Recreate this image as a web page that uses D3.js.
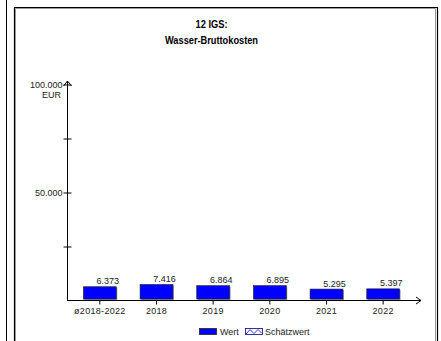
<!DOCTYPE html>
<html>
<head>
<meta charset="utf-8">
<script src="https://cdn.jsdelivr.net/npm/d3@7"></script>
<style>
  html, body { margin: 0; padding: 0; background: #fff; }
  svg { display: block; }
</style>
</head>
<body>
<div id="chart"></div>
<script>
// Wasser-Bruttokosten – Balkendiagramm

const categories = ['ø2018-2022', '2018', '2019', '2020', '2021', '2022'];
const values     = [6373, 7416, 6864, 6895, 5295, 5397];
const yMajor     = [50000, 100000];
const yMinor     = [25000, 75000];
const titleLines = ['12 IGS:', 'Wasser-Bruttokosten'];
const legendItems = ['Wert', 'Schätzwert'];

const W = 441, H = 341;
const FONT = 'Arial, "Liberation Sans", sans-serif';
const BLUE = '#0000ff';

const de = d3.formatLocale({ decimal: ',', thousands: '.', grouping: [3], currency: ['', ''] });
const fmt = de.format(',d');

const svg = d3.select('#chart').append('svg')
  .attr('width', W).attr('height', H)
  .style('font-family', FONT);

// ── Rahmen ───────────────────────────────────────────────────────────────
svg.append('line').attr('x1', 6.5).attr('x2', 6.5).attr('y1', 0).attr('y2', H)
  .attr('stroke', '#000').attr('stroke-width', 1);
svg.append('path')
  .attr('d', `M14.5,${H} V7.5 H437.5 V${H}`)
  .attr('fill', 'none').attr('stroke', '#000').attr('stroke-width', 1.2);
svg.append('path')
  .attr('d', `M15.5,${H} V8.5 H435.5 V${H}`)
  .attr('fill', 'none').attr('stroke', '#999').attr('stroke-width', 1);

// ── Titel ────────────────────────────────────────────────────────────────
const titleW = [32, 93];
svg.append('g').selectAll('text')
  .data(titleLines)
  .join('text')
  .attr('x', 211.5).attr('y', (d, i) => 28 + i * 16)
  .attr('text-anchor', 'middle')
  .attr('font-size', 11.5).attr('font-weight', 'bold')
  .attr('textLength', (d, i) => titleW[i])
  .attr('lengthAdjust', 'spacingAndGlyphs')
  .text(d => d);

// ── Skalen ───────────────────────────────────────────────────────────────
const x = d3.scaleBand().domain(categories).range([71.5, 411.5]).paddingInner(0.42).paddingOuter(0.21);
const y = d3.scaleLinear().domain([0, 100000]).range([300.5, 84.5]);

// Balken (mit Schatten)
const bars = svg.append('g');
bars.selectAll('.shadow')
  .data(values)
  .join('rect')
  .attr('class', 'shadow')
  .attr('x', (d, i) => x(categories[i]) + 1)
  .attr('y', d => y(d) + 1)
  .attr('width', x.bandwidth())
  .attr('height', d => y(0) - y(d) - 1)
  .attr('fill', '#9a9a9a');
bars.selectAll('.bar')
  .data(values)
  .join('rect')
  .attr('class', 'bar')
  .attr('x', (d, i) => x(categories[i]))
  .attr('y', d => y(d))
  .attr('width', x.bandwidth())
  .attr('height', d => y(0) - y(d) - 1.5)
  .attr('fill', BLUE)
  .attr('stroke', '#222').attr('stroke-width', 0.6);

bars.selectAll('.val')
  .data(values)
  .join('text')
  .attr('class', 'val')
  .attr('x', (d, i) => x(categories[i]) + x.bandwidth() / 2 + 8)
  .attr('y', d => y(d) - 2.5)
  .attr('text-anchor', 'middle')
  .attr('font-size', 9).attr('fill', '#222')
  .text(d => fmt(d));

// ── Y-Achse ──────────────────────────────────────────────────────────────
svg.append('g').attr('transform', 'translate(67.5,0)')
  .call(d3.axisLeft(y).tickValues(yMajor.concat(yMinor)).tickSize(4)
    .tickFormat(d => yMajor.includes(d) ? fmt(d) : ''))
  .call(ax => ax.select('.domain').remove())
  .call(ax => ax.selectAll('line').attr('x1', -4).attr('x2', 4).attr('stroke', '#000'))
  .call(ax => ax.selectAll('text').attr('x', -5).attr('dy', '0.3em').attr('font-size', 9)
    .attr('font-family', FONT).attr('fill', '#222'));

svg.append('text')
  .attr('x', 61).attr('y', 97.5)
  .attr('text-anchor', 'end').attr('font-size', 9).attr('fill', '#222')
  .text('EUR');

svg.append('path')
  .attr('d', 'M67.5,301 V81 M63.5,86 L67.5,81 L71.5,86')
  .attr('fill', 'none').attr('stroke', '#000').attr('stroke-width', 1);

// ── X-Achse ──────────────────────────────────────────────────────────────
svg.append('g').attr('transform', 'translate(0,300.5)')
  .call(d3.axisBottom(x).tickSize(4).tickPadding(3))
  .call(ax => ax.select('.domain').remove())
  .call(ax => ax.selectAll('line').attr('stroke', '#000'))
  .call(ax => ax.selectAll('text').attr('font-size', 9).attr('letter-spacing', 0.3)
    .attr('font-family', FONT).attr('fill', '#222'));

svg.append('path')
  .attr('d', 'M67,300.5 H421 M416,297 L421,300.5 L416,304')
  .attr('fill', 'none').attr('stroke', '#000').attr('stroke-width', 1);

// ── Legende ──────────────────────────────────────────────────────────────
const leg = svg.append('g').attr('font-size', 9).attr('fill', '#222');
leg.append('rect').attr('x', 199.5).attr('y', 328.5).attr('width', 17).attr('height', 6)
  .attr('fill', BLUE).attr('stroke', '#222').attr('stroke-width', 0.8);
leg.append('text').attr('x', 220).attr('y', 335).text(legendItems[0]);
leg.append('rect').attr('x', 245.5).attr('y', 328.5).attr('width', 17).attr('height', 6)
  .attr('fill', '#fff').attr('stroke', '#00008b').attr('stroke-width', 0.8);
leg.append('path')
  .attr('d', 'M246,334 L250,329.5 L254,333.5 L258,329.5 L262,333.5')
  .attr('fill', 'none').attr('stroke', BLUE).attr('stroke-width', 0.8);
leg.append('text').attr('x', 265).attr('y', 335).text(legendItems[1]);
</script>
</body>
</html>
